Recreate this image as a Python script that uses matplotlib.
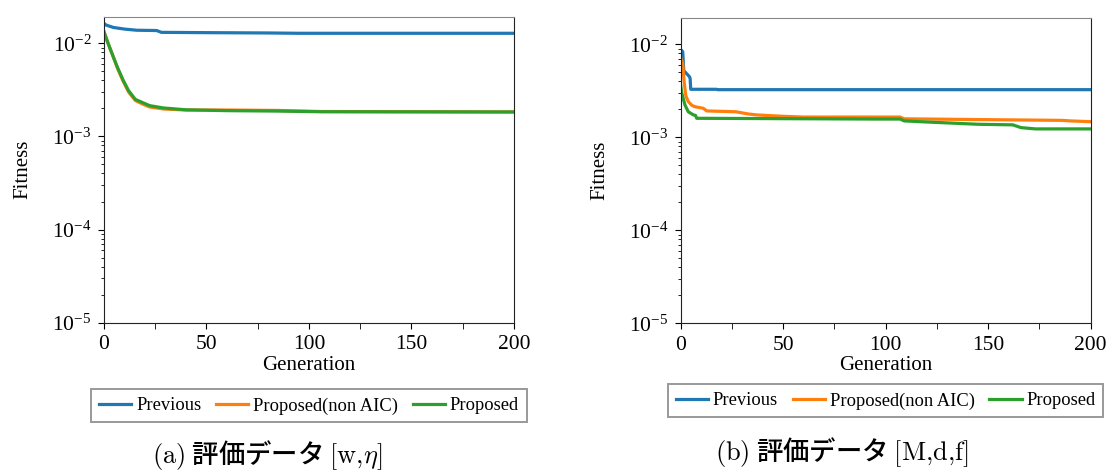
import matplotlib.pyplot as plt
import numpy as np

# Fonts: Times-like serif for the axes, CJK gothic for the captions.
plt.rcParams["font.family"] = ["Liberation Serif", "DejaVu Serif"]
plt.rcParams["mathtext.fontset"] = "stix"

labels = ["Previous", "Proposed(non AIC)", "Proposed"]
colors = ["#1f77b4", "#ff7f0e", "#2ca02c"]

# (a) evaluation data [w, eta] -- best fitness per generation
gen_a_prev = [0, 1, 4.5, 10, 16, 25.7, 28, 50, 80, 95, 200]
fit_a_prev = [0.0164, 0.0157, 0.0148, 0.0142, 0.0138, 0.0137, 0.0131, 0.0130, 0.0129, 0.0128, 0.0128]
gen_a_prop = [0, 2, 4.5, 6.6, 9.4, 12, 15.3, 19, 22.3, 29, 40, 60, 85, 106, 200]
fit_a_nonaic = [0.0133, 0.0100, 0.0072, 0.0054, 0.0039, 0.0030, 0.00243, 0.00222, 0.00207,
                0.00197, 0.00192, 0.00192, 0.00190, 0.00185, 0.00183]
fit_a_prop = [0.0133, 0.0100, 0.0072, 0.0055, 0.0040, 0.0031, 0.0025, 0.0023, 0.00214,
              0.00202, 0.00193, 0.00189, 0.00187, 0.00184, 0.00183]

# (b) evaluation data [M, d, f]
gen_b_prev = [0, 1, 1.5, 3, 4.2, 4.6, 4.9, 17.5, 18, 200]
fit_b_prev = [0.0088, 0.0083, 0.0052, 0.0048, 0.0045, 0.0043, 0.00328, 0.00328, 0.00325, 0.00325]
gen_b_nonaic = [0, 1, 1.6, 2.5, 3.7, 5.5, 7, 11, 12.7, 27, 33, 37, 50, 60, 107, 109, 145, 186, 190, 200]
fit_b_nonaic = [0.0072, 0.0062, 0.0041, 0.0028, 0.00242, 0.0022, 0.00213, 0.00205, 0.00192, 0.00188,
                0.00178, 0.00174, 0.00168, 0.00165, 0.00165, 0.00158, 0.00155, 0.00152, 0.0015, 0.00147]
gen_b_prop = [0, 0.5, 2.1, 3.7, 6.2, 7.2, 7.8, 94, 107, 109, 120, 145, 162, 166, 173, 200]
fit_b_prop = [0.0036, 0.0030, 0.00222, 0.00188, 0.00174, 0.00172, 0.0016, 0.00157, 0.00157,
              0.0015, 0.00146, 0.00138, 0.00136, 0.00127, 0.00123, 0.00123]

xticks = [0, 50, 100, 150, 200]
xminor = [25, 75, 125, 175]

fig = plt.figure(figsize=(11.07, 4.71), dpi=100)
ax_a = fig.add_axes([0.0939, 0.3149, 0.3704, 0.6497])
ax_b = fig.add_axes([0.6149, 0.3136, 0.3704, 0.6488])

panels = [
    (ax_a, [(gen_a_prev, fit_a_prev), (gen_a_prop, fit_a_nonaic), (gen_a_prop, fit_a_prop)], -0.188),
    (ax_b, [(gen_b_prev, fit_b_prev), (gen_b_nonaic, fit_b_nonaic), (gen_b_prop, fit_b_prop)], -0.17),
]

for ax, series, leg_y in panels:
    for (g, f), lab, c in zip(series, labels, colors):
        ax.plot(g, f, color=c, lw=2.3, label=lab)
    ax.set_yscale("log")
    ax.set_xlim(0, 200)
    ax.set_ylim(1e-5, 0.0193)
    ax.set_xticks(xticks)
    ax.set_xticks(xminor, minor=True)
    ax.tick_params(axis="x", which="both", length=4, labelsize=15.5, pad=5)
    ax.tick_params(axis="y", which="major", length=4, labelsize=15.5, pad=5)
    ax.tick_params(axis="y", which="minor", length=2.5)
    ax.set_xlabel("Generation", fontsize=15, labelpad=1)
    ax.set_ylabel("Fitness", fontsize=15, labelpad=14)
    for side in ["left", "right", "bottom"]:
        ax.spines[side].set_color("#222222")
    ax.spines["top"].set_color("#888888")

    leg = ax.legend(loc="upper center", bbox_to_anchor=(0.5, leg_y), ncol=3, fontsize=13.3,
                    handlelength=1.75, handletextpad=0.25, columnspacing=0.8,
                    borderpad=0.42, fancybox=False, framealpha=1)
    leg.get_frame().set_edgecolor("#999999")
    leg.get_frame().set_linewidth(1.4)

# Sub-figure captions
fig.text(0.137, 0.017, r"$\mathrm{(a)}$ 評価データ $[\mathrm{w{,}}\eta]$", fontsize=19,
         family=["Noto Sans CJK JP", "DejaVu Sans"], weight="medium", math_fontfamily="cm", ha="left")
fig.text(0.646, 0.024, r"$\mathrm{(b)}$ 評価データ $[\mathrm{M{,}d{,}f}]$", fontsize=19,
         family=["Noto Sans CJK JP", "DejaVu Sans"], weight="medium", math_fontfamily="cm", ha="left")

fig.savefig("out.png", dpi=100)
